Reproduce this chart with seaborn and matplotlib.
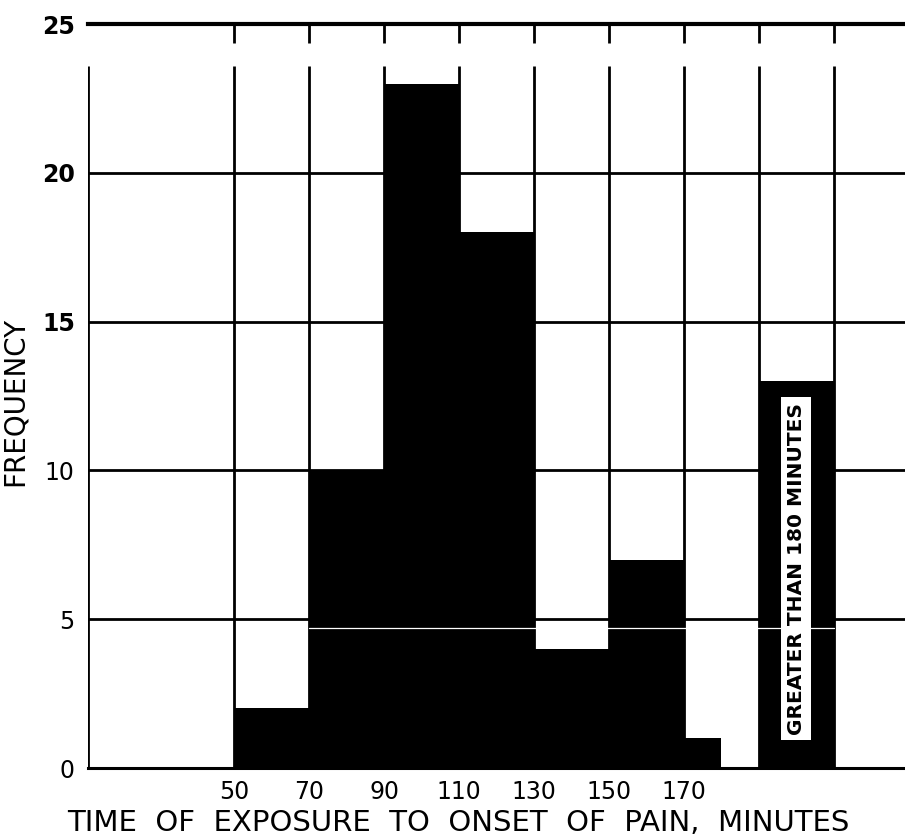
import seaborn as sns
import matplotlib.pyplot as plt

sns.set_style("white")
plt.rcParams['font.family'] = ['DejaVu Sans']
plt.rcParams.update({"text.color": "black", "axes.labelcolor": "black",
                     "xtick.color": "black", "ytick.color": "black",
                     "axes.edgecolor": "black"})

# histogram bins (minutes) and counts
bin_edges = [50, 70, 90, 110, 130, 150, 170, 180, 190, 210]
counts = [2, 10, 23, 18, 4, 7, 1, 0, 13]
bin_mids = [(a + b) / 2 for a, b in zip(bin_edges[:-1], bin_edges[1:])]

grid_x = [50, 70, 90, 110, 130, 150, 170, 190, 210]
x_labels = ["50", "70", "90", "110", "130", "150", "170", "", ""]
y_ticks = [0, 5, 10, 15, 20, 25]
y_labels = ["0", "5", "10", "15", "20", "25"]

over_label = "GREATER THAN 180 MINUTES"
x_title = "TIME  OF  EXPOSURE  TO  ONSET  OF  PAIN,  MINUTES"
y_title = "FREQUENCY"

X_MIN, X_MAX = 11, 229

fig = plt.figure(figsize=(9.05, 8.39), dpi=100)
ax = fig.add_axes([88 / 905, 1 - 768 / 839, 1 - 88 / 905, (768 - 24) / 839])

sns.histplot(x=bin_mids, weights=counts, bins=bin_edges, color="black",
             alpha=1, edgecolor="black", linewidth=0, ax=ax, zorder=3)

ax.set_xlim(X_MIN, X_MAX)
ax.set_ylim(0, 25)

# grid drawn by hand: verticals stop short of the top rule like the scan
ax.hlines([5, 10, 15, 20], X_MIN, X_MAX, color="black", lw=2, zorder=1)
ax.vlines(grid_x + [X_MIN], 0, 23.6, color="black", lw=2, zorder=1)
# white scan streak across the black bars
ax.axhline(4.7, xmin=(70 - X_MIN) / (X_MAX - X_MIN), xmax=(210 - X_MIN) / (X_MAX - X_MIN),
           color="white", lw=0.9, zorder=4)

for side in ["left", "right"]:
    ax.spines[side].set_visible(False)
ax.spines["top"].set_linewidth(3)
ax.spines["bottom"].set_linewidth(2.2)

ax.set_xticks(grid_x)
ax.set_xticklabels(x_labels, fontsize=17)
ax.tick_params(axis="x", top=True, bottom=False, direction="in", length=14,
               width=2, pad=8.5, labelbottom=True, labeltop=False)
ax.set_yticks(y_ticks)
ax.set_yticklabels(y_labels, fontsize=17)
ax.tick_params(axis="y", left=False, pad=6)
for lab in ax.get_yticklabels():
    if lab.get_text() in ("15", "20", "25"):
        lab.set_fontweight("bold")

ax.set_xlabel(x_title, fontsize=21)
ax.xaxis.set_label_coords((458 - 88) / (905 - 88), -0.0545)
ax.set_ylabel(y_title, fontsize=20)
ax.yaxis.set_label_coords(-0.073, 0.493)

ax.text(200, 6.7, over_label, rotation=90, ha="center", va="center",
        fontsize=14.5, fontweight="bold", zorder=5,
        bbox=dict(facecolor="white", edgecolor="none", pad=4))

fig.savefig("out.png", dpi=100)
